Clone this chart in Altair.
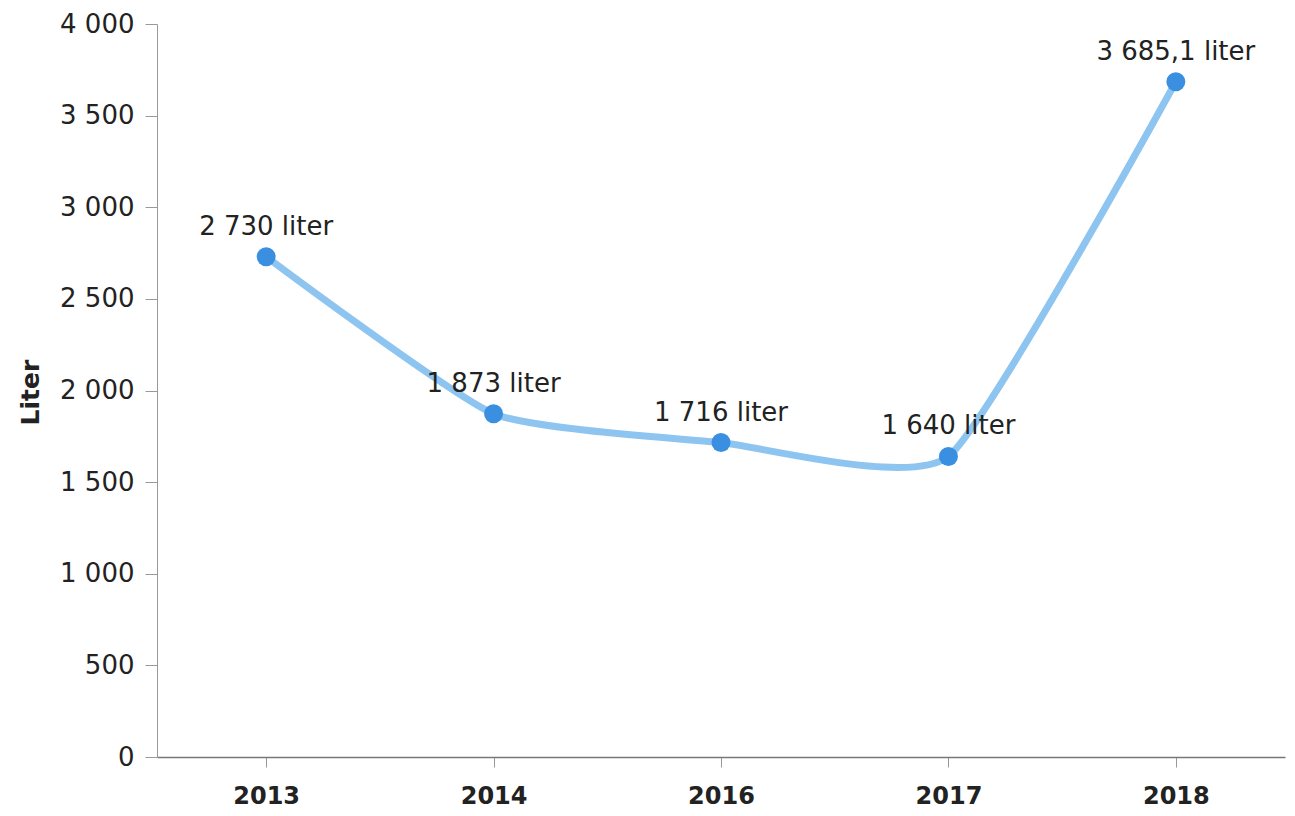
import altair as alt
import pandas as pd

years = ["2013", "2014", "2016", "2017", "2018"]
values = [2730, 1873, 1716, 1640, 3685.1]
labels = ["2 730 liter", "1 873 liter", "1 716 liter", "1 640 liter", "3 685,1 liter"]

df = pd.DataFrame({"year": years, "value": values, "label": labels})

FONT = "DejaVu Sans"

x = alt.X("year:O", sort=years, title=None,
          scale=alt.Scale(padding=0.48),
          axis=alt.Axis(labelAngle=0, labelFont=FONT, labelFontSize=24, labelFontWeight="bold",
                        labelColor="#222", domainColor="#777", domainWidth=1.5,
                        tickColor="#999", tickSize=10, labelPadding=17, grid=False))
y = alt.Y("value:Q", title="Liter",
          scale=alt.Scale(domain=[0, 4000], nice=False),
          axis=alt.Axis(values=list(range(0, 4001, 500)),
                        labelExpr="replace(format(datum.value, ','), /,/g, ' ')",
                        labelFont=FONT, labelFontSize=26, labelColor="#222",
                        domainColor="#999", tickColor="#999", tickSize=12, labelPadding=11,
                        grid=False, titleFont=FONT, titleFontSize=25, titleFontWeight="bold",
                        titleColor="#222", titleAngle=-90, titleX=-127, titleY=368,
                        titleBaseline="middle", titleAlign="center"))

base = alt.Chart(df).encode(x=x, y=y)

line = base.mark_line(interpolate="cardinal", tension=0.5, color="#8ec5f0", strokeWidth=7)
points = base.mark_circle(color="#3b8fe0", size=360, opacity=1)
text = base.mark_text(font=FONT, fontSize=26, color="#222", dy=-30, baseline="middle").encode(text="label:N")

chart = (line + points + text).properties(
    width=1128, height=733,
    autosize=alt.AutoSizeParams(type="none"),
    padding={"left": 149, "top": 16, "right": 2, "bottom": 58},
).configure_view(stroke=None)

chart.save("out.html", embed_options={"renderer": "svg", "actions": False})
